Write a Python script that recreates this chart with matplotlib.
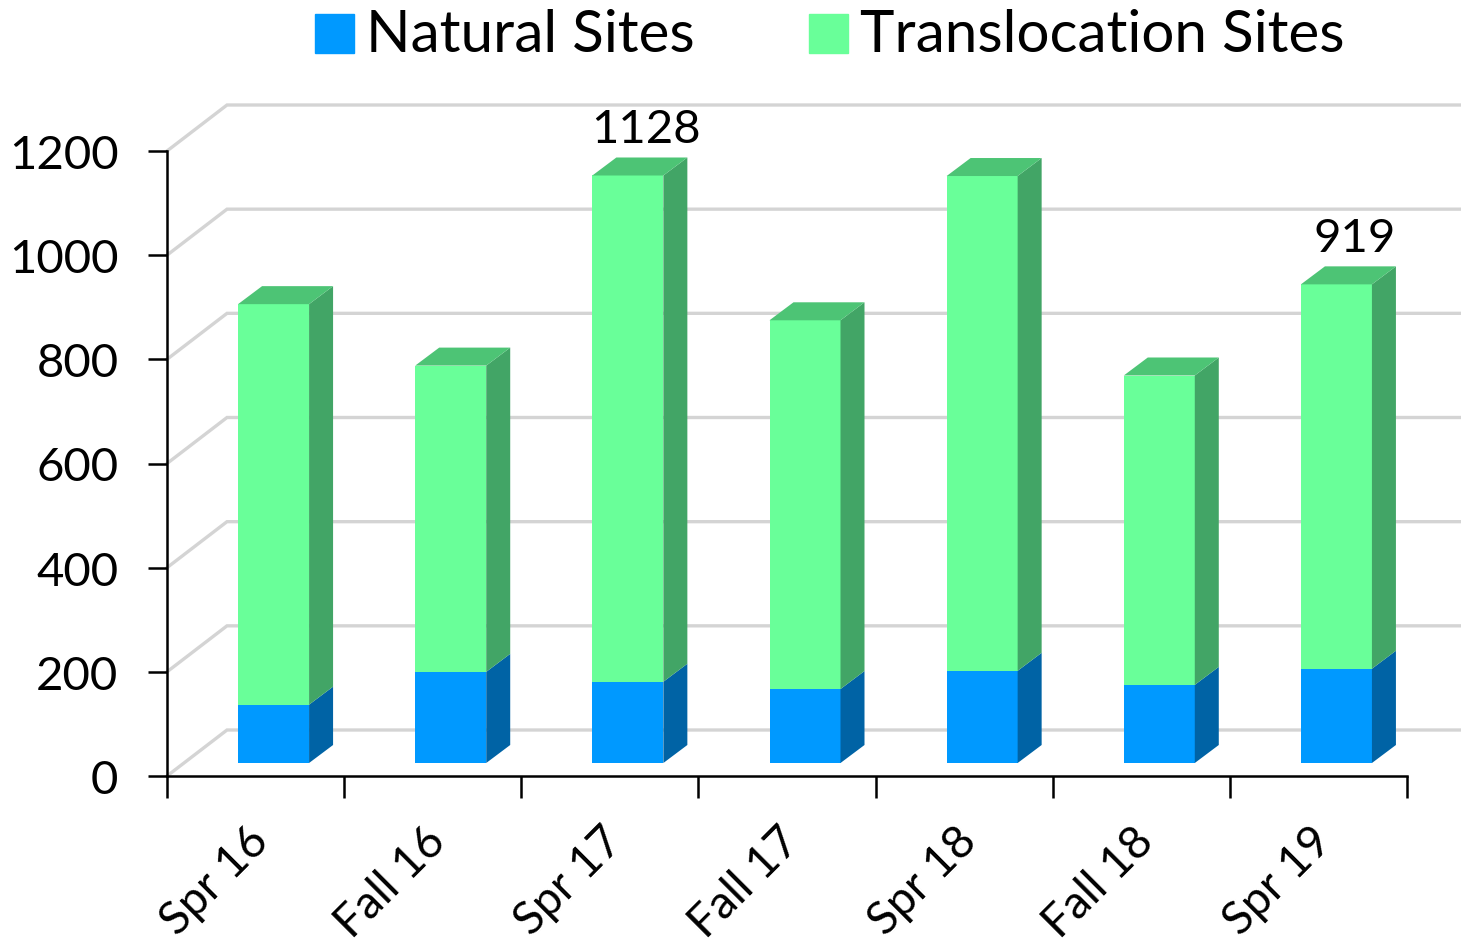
import matplotlib
matplotlib.use('Agg')
import matplotlib.pyplot as plt
from matplotlib.patches import Polygon, Patch

plt.rcParams['font.family'] = ['Lato', 'DejaVu Sans']

semesters = ['Spr 16', 'Fall 16', 'Spr 17', 'Fall 17', 'Spr 18', 'Fall 18', 'Spr 19']
natural = [112, 175, 156, 142, 177, 150, 181]
totals = [881, 763, 1128, 850, 1127, 744, 919]
labelled = {2: '1128', 6: '919'}
yticks = [0, 200, 400, 600, 800, 1000, 1200]

W, H = 1461, 945
X0, X1, Y0, Y1 = 167, 1407, 777, 152  # axes box in pixels


def add_bar(ax, x, bottom, top, front, side, roof=None):
    """front face plus the fake 3d side and roof"""
    ax.bar(x, top - bottom, width=bar_w, bottom=bottom, align='edge', color=front,
           clip_on=False, zorder=3)
    r = x + bar_w
    ax.add_patch(Polygon([(r, bottom), (r + bar_dx, bottom + bar_dy),
                          (r + bar_dx, top + bar_dy), (r, top)],
                         color=side, lw=0, clip_on=False, zorder=3))
    if roof:
        ax.add_patch(Polygon([(x, top), (x + bar_dx, top + bar_dy),
                              (r + bar_dx, top + bar_dy), (r, top)],
                             color=roof, lw=0, clip_on=False, zorder=3))


fig = plt.figure(figsize=(W / 100, H / 100), dpi=100)
ax = fig.add_axes([X0 / W, 1 - Y0 / H, (X1 - X0) / W, (Y0 - Y1) / H])
ax.set_xlim(0, len(semesters))
ax.set_ylim(0, 1200)

px_x = len(semesters) / (X1 - X0)
px_y = 1200 / (Y0 - Y1)
bar_w = 71 * px_x
bar_dx, bar_dy = 24 * px_x, 18 * px_y
shift_x, shift_y = 18 * px_x, 13 * px_y
back_x, back_y = 60 * px_x, 46 * px_y

# floor and back wall grid
for v in yticks:
    ax.plot([0, back_x, (W - X0) * px_x], [v, v + back_y, v + back_y], color='#d4d4d4',
            lw=2.4, clip_on=False, zorder=1, solid_joinstyle='miter')

for i, (n, t) in enumerate(zip(natural, totals)):
    x = i + 0.5 - bar_w / 2 + shift_x
    add_bar(ax, x, shift_y, shift_y + n, '#0099ff', '#0063a5')
    add_bar(ax, x, shift_y + n, shift_y + t, '#69ff99', '#42a566', '#4dc475')
    if i in labelled:
        ax.text(x + bar_w / 2 + 18 * px_x, shift_y + t + 25 * px_y, labelled[i], fontsize=34,
                ha='center', va='bottom', color='black')

for s in ['top', 'right']:
    ax.spines[s].set_visible(False)
for s in ['left', 'bottom']:
    ax.spines[s].set_linewidth(1.8)
    ax.spines[s].set_zorder(4)

ax.set_yticks(yticks)
ax.tick_params(axis='y', length=14, width=1.8, labelsize=34, pad=21)
ax.set_xticks(range(len(semesters) + 1))
ax.set_xticklabels([])
ax.tick_params(axis='x', which='major', length=16, width=1.8)
ax.set_xticks([i + 0.5 - 9 * px_x for i in range(len(semesters))], minor=True)
ax.set_xticklabels(semesters, minor=True, rotation=45, ha='right', va='top',
                   rotation_mode='anchor', fontsize=33)
ax.tick_params(axis='x', which='minor', length=0, pad=31)

handles = [Patch(color='#0099ff', label='Natural Sites'),
           Patch(color='#69ff99', label='Translocation Sites')]
leg = fig.legend(handles=handles, loc='upper left', bbox_to_anchor=(309 / W, 1 - 6 / H), ncol=2,
                 frameon=False, fontsize=42, handlelength=0.67, handleheight=0.67,
                 handletextpad=0.2, columnspacing=1.97, borderpad=0.1, borderaxespad=0)
for t in leg.get_texts():
    t.set_y(3)

fig.savefig('out.png', dpi=100)
